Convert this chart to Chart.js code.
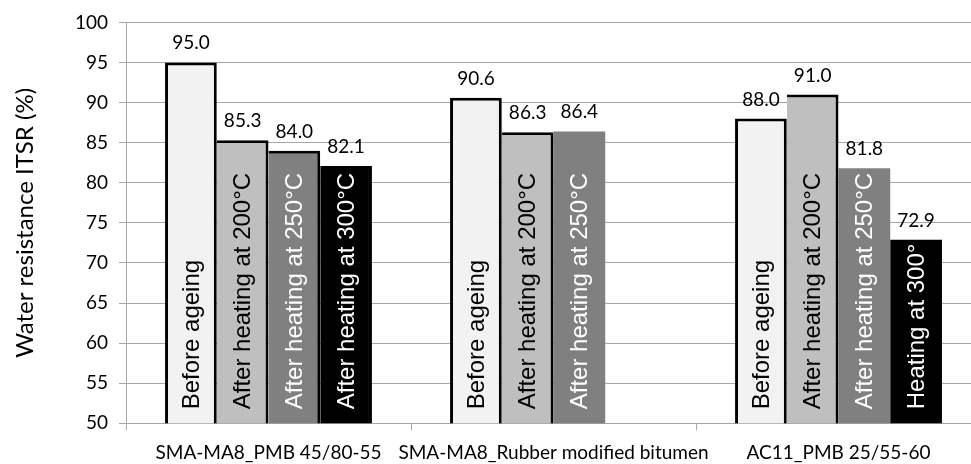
<!DOCTYPE html>
<html><head><meta charset="utf-8">
<script src="https://cdn.jsdelivr.net/npm/chart.js@4"></script>
<style>
html,body{margin:0;padding:0;overflow:hidden;background:#fff;width:971px;height:464px}
#wrap{position:absolute;left:0;top:0;width:981px;height:464px}
</style></head>
<body><div id="wrap"><canvas id="c" width="981" height="464"></canvas></div>
<script>
// ---- data ----
const categories = ["SMA-MA8_PMB 45/80-55", "SMA-MA8_Rubber modified bitumen", "AC11_PMB 25/55-60"];
const seriesNames = ["Before ageing", "After heating at 200°C", "After heating at 250°C", "After heating at 300°C"];
const beforeAgeing = [95.0, 90.6, 88.0];
const heating200 = [85.3, 86.3, 91.0];
const heating250 = [84.0, 86.4, 81.8];
const heating300 = [82.1, null, 72.9];
const labelsBefore = ["Before ageing", "Before ageing", "Before ageing"];
const labels200 = ["After heating at 200°C", "After heating at 200°C", "After heating at 200°C"];
const labels250 = ["After heating at 250°C", "After heating at 250°C", "After heating at 250°C"];
const labels300 = ["After heating at 300°C", "", "Heating at 300°"];
const yTicks = {min: 50, max: 100, step: 5};
const yTitle = "Water resistance ITSR (%)";

// ---- styles ----
const fillColors = ['#F2F2F2', '#BFBFBF', '#808080', '#000000'];
const textColors = ['#000000', '#000000', '#FFFFFF', '#FFFFFF'];
const bordered = [[true, true, true], [true, true, true], [true, false, false], [true, false, false]];
const gridColor = '#A6A6A6';
const calibriLike = 'Lato, "Open Sans", sans-serif';

const seriesData = [beforeAgeing, heating200, heating250, heating300];
const insideLabels = [labelsBefore, labels200, labels250, labels300];

const barText = {
  id: 'barText',
  afterDraw(chart) {
    const ctx = chart.ctx;
    const yScale = chart.scales.y;
    const basePx = yScale.getPixelForValue(yTicks.min);
    chart.data.datasets.forEach((ds, d) => {
      const meta = chart.getDatasetMeta(d);
      meta.data.forEach((bar, i) => {
        const v = ds.data[i];
        if (v === null || v === undefined) return;
        const x = bar.x;
        const top = yScale.getPixelForValue(v);
        ctx.save();
        ctx.font = '19px ' + calibriLike;
        ctx.fillStyle = '#000';
        ctx.textAlign = 'center';
        ctx.textBaseline = 'alphabetic';
        ctx.fillText(v.toFixed(1), x, top - 13);
        ctx.restore();
        const txt = insideLabels[d][i];
        if (!txt) return;
        ctx.save();
        ctx.setTransform(0, -1, 1, 0, x + 1, basePx - 14);
        ctx.font = '24px "Liberation Sans", Arial, sans-serif';
        ctx.fillStyle = textColors[d];
        ctx.textAlign = 'left';
        ctx.textBaseline = 'middle';
        ctx.fillText(txt, 0, 0);
        ctx.restore();
      });
    });
  }
};

new Chart(document.getElementById('c'), {
  type: 'bar',
  data: {
    labels: categories,
    datasets: seriesData.map((arr, d) => ({
      label: seriesNames[d],
      data: arr,
      backgroundColor: fillColors[d],
      borderColor: '#000000',
      borderSkipped: false,
      borderWidth: (c) => {
        if (c.dataIndex === undefined) return 0;
        const i = c.dataIndex;
        if (!bordered[d][i]) return 0;
        return {top: 3, right: 3, bottom: 3, left: (d > 0 && bordered[d - 1][i]) ? 0 : 3};
      },
      barPercentage: 1,
      categoryPercentage: 0.726
    }))
  },
  options: {
    responsive: false,
    animation: false,
    events: [],
    layout: {padding: {top: 15.5, right: 0, bottom: 0, left: 0}},
    plugins: {legend: {display: false}, tooltip: {enabled: false}},
    scales: {
      x: {
        offset: true,
        grid: {display: true, drawOnChartArea: false, drawTicks: true, tickLength: 7, color: gridColor, offset: true},
        border: {color: gridColor, width: 1},
        ticks: {font: {family: calibriLike, size: 19}, color: '#000', padding: 11, maxRotation: 0, minRotation: 0, autoSkip: false},
        afterFit(s) { s.height = 40.7; }
      },
      y: {
        min: yTicks.min, max: yTicks.max,
        ticks: {stepSize: yTicks.step, font: {family: calibriLike, size: 19}, color: '#000', padding: 11},
        grid: {color: gridColor, tickLength: 7},
        border: {color: gridColor, width: 1},
        title: {display: true, text: yTitle, font: {family: calibriLike, size: 24}, color: '#000', padding: {top: 10.6, bottom: 0}},
        afterFit(s) { s.width = 126; }
      }
    }
  },
  plugins: [barText]
});
</script>
</body></html>
